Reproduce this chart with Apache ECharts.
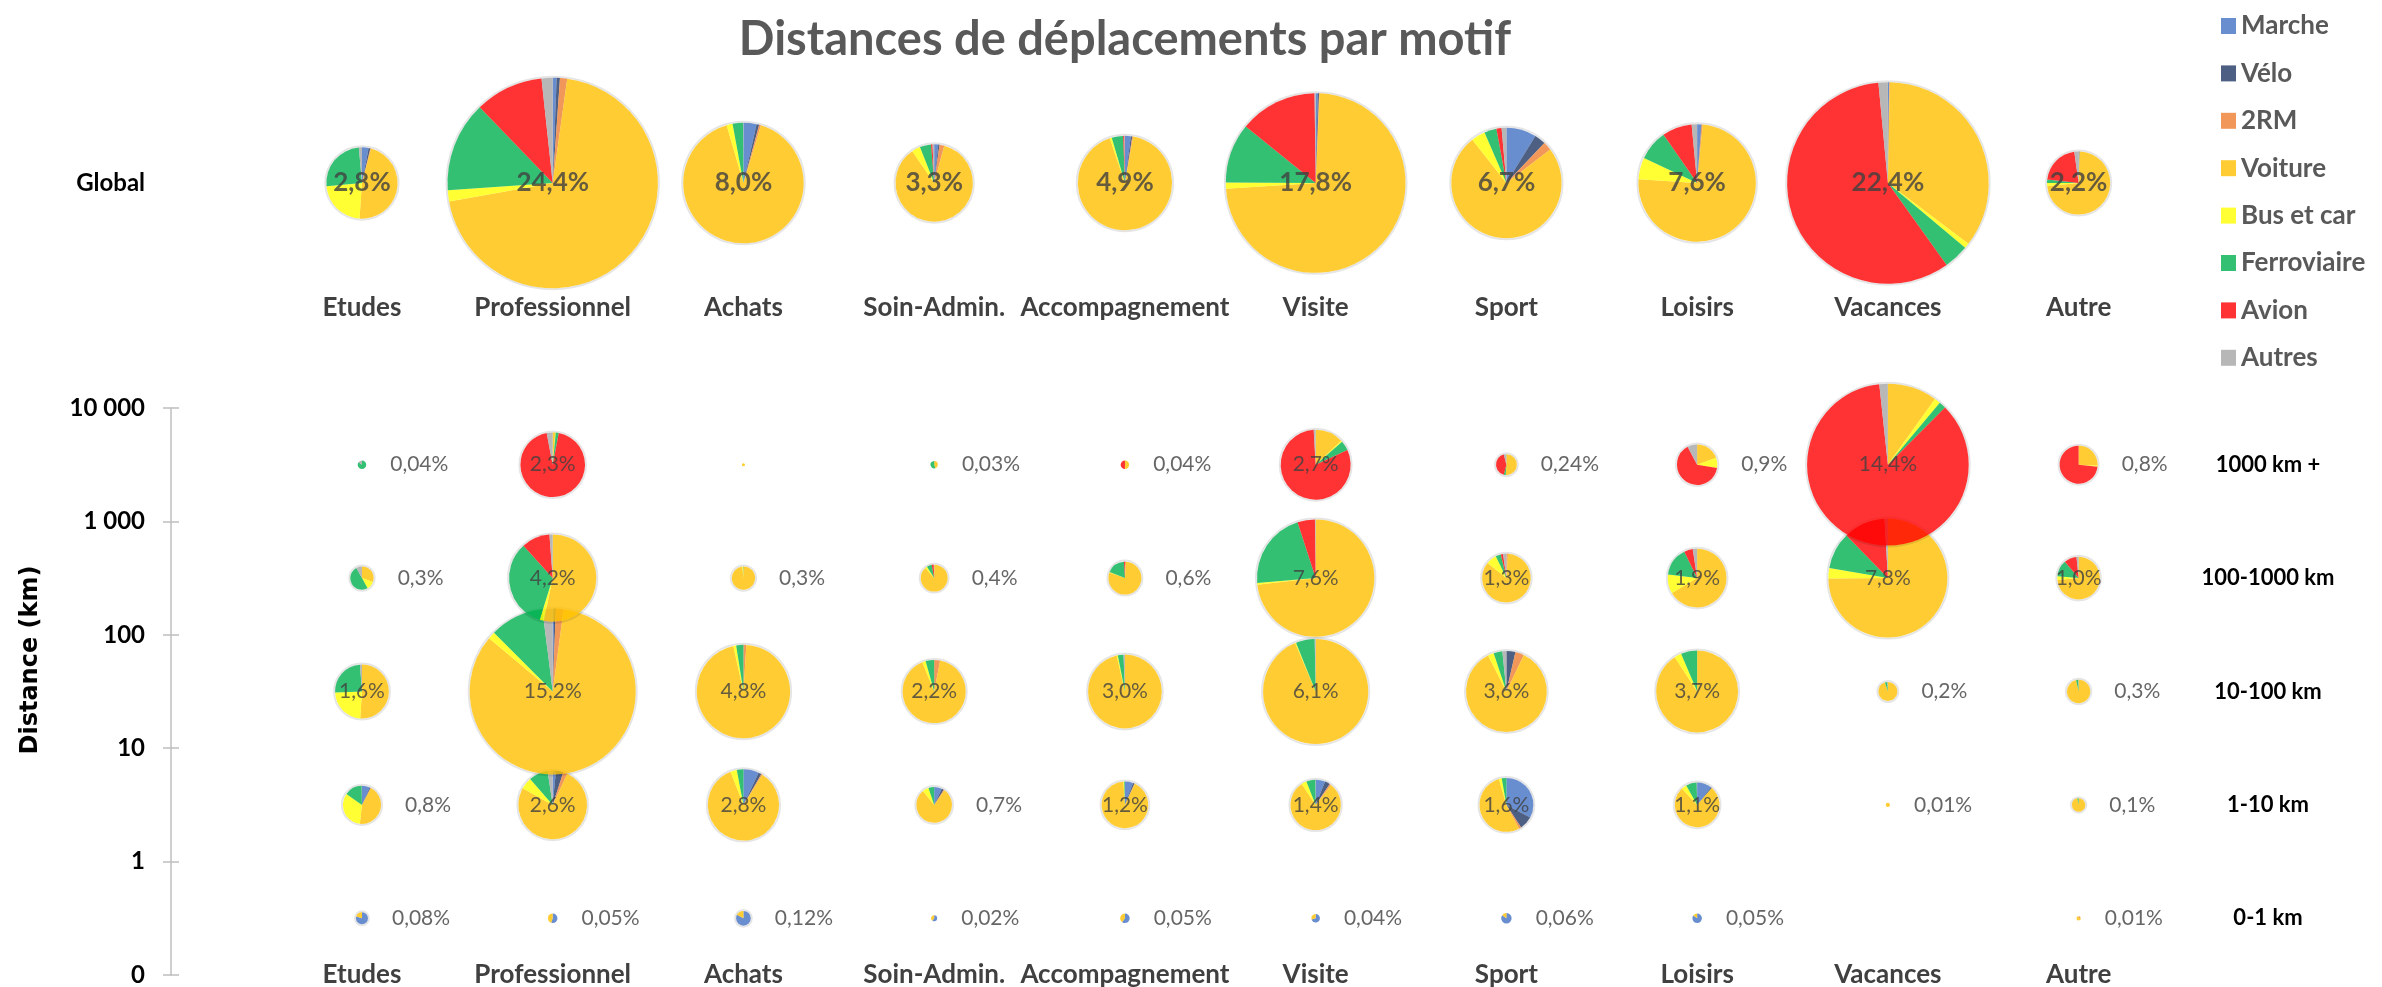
<!DOCTYPE html>
<html>
<head>
<meta charset="utf-8">
<title>Distances de déplacements par motif</title>
<script src="https://cdn.jsdelivr.net/npm/echarts@6/dist/echarts.min.js"></script>
<style>
  html, body { margin: 0; padding: 0; background: #fff; }
  #chart { width: 2382px; height: 987px; }
</style>
</head>
<body>
<div id="chart"></div>
<script>
// motifs (colonnes) et modes de transport (parts des camemberts)
var motifs = ["Etudes", "Professionnel", "Achats", "Soin-Admin.", "Accompagnement", "Visite", "Sport", "Loisirs", "Vacances", "Autre"];
var modes = ["Marche", "Vélo", "2RM", "Voiture", "Bus et car", "Ferroviaire", "Avion", "Autres"];
var modeColors = ["#4472C4", "#203864", "#ED7D31", "#FFC000", "#FFFF00", "#00B050", "#FF0000", "#A5A5A5"];
var bands = ["0-1 km", "1-10 km", "10-100 km", "100-1000 km", "1000 km +"];
var distanceTicks = ["0", "1", "10", "100", "1 000", "10 000"];

// part des distances (%) - ligne Global
var globalShare = [2.8, 24.4, 8.0, 3.3, 4.9, 17.8, 6.7, 7.6, 22.4, 2.2];
// répartition modale (Marche, Vélo, 2RM, Voiture, Bus, Fer, Avion, Autres)
var globalMix = [
  [3, 0.8, 0.3, 47, 22.5, 25, 0, 1.4],
  [0.6, 0.5, 1.1, 70, 1.7, 13.9, 10.5, 1.7],
  [3.5, 0.7, 0.5, 90.8, 1.6, 2.8, 0, 0.1],
  [1.7, 0.5, 2, 86.2, 3.6, 4.7, 0.6, 0.7],
  [2, 0.5, 0.3, 92, 0.7, 3.9, 0.4, 0.2],
  [0.4, 0.2, 0.1, 73.3, 1.1, 10.7, 14, 0.2],
  [8.8, 3.3, 2.5, 74.8, 4.1, 3.6, 1.5, 1.4],
  [1.1, 0.1, 0.3, 74.5, 6, 8.3, 8.2, 1.5],
  [0.2, 0, 0.1, 35, 0.8, 4, 58.4, 1.5],
  [0.3, 0.2, 0, 73, 1.5, 1.8, 21, 2.2]
];

// par tranche de distance
var share0to1 = [0.08, 0.05, 0.12, 0.02, 0.05, 0.04, 0.06, 0.05, null, 0.01];
var mix0to1 = [
  [80, 0, 0, 20, 0, 0, 0, 0],
  [55, 0, 0, 45, 0, 0, 0, 0],
  [82, 1, 0, 17, 0, 0, 0, 0],
  [60, 0, 0, 40, 0, 0, 0, 0],
  [60, 0, 0, 40, 0, 0, 0, 0],
  [70, 0, 0, 30, 0, 0, 0, 0],
  [85, 0, 0, 15, 0, 0, 0, 0],
  [85, 0, 0, 15, 0, 0, 0, 0],
  null,
  [0, 0, 20, 80, 0, 0, 0, 0]
];
var share1to10 = [0.8, 2.6, 2.8, 0.7, 1.2, 1.4, 1.6, 1.1, 0.01, 0.1];
var mix1to10 = [
  [6.7, 0.8, 0.3, 44, 33, 15, 0, 0.2],
  [1.5, 3.5, 2, 76, 5.6, 9, 0, 2.4],
  [7, 1.4, 0.5, 85.3, 2.9, 3, 0, 0],
  [7, 2, 0.8, 79.4, 5.6, 5.2, 0, 0],
  [5.6, 1.1, 0.3, 92, 0.5, 0.5, 0, 0],
  [6.1, 3.3, 1, 80.3, 3.3, 5.8, 0, 0.2],
  [32.8, 8, 1.4, 53.3, 1.7, 2.8, 0, 0],
  [10.6, 0.8, 0, 76.6, 3.9, 7.8, 0, 0.3],
  [0, 0, 0, 100, 0, 0, 0, 0],
  [0, 0, 0, 97, 0, 3, 0, 0]
];
var share10to100 = [1.6, 15.2, 4.8, 2.2, 3.0, 6.1, 3.6, 3.7, 0.2, 0.3];
var mix10to100 = [
  [0, 0, 0, 51, 23.4, 24.4, 0, 1.2],
  [0.3, 0.3, 1.5, 84, 1.4, 10.5, 0, 2],
  [0, 0, 1, 95.5, 1, 2.5, 0, 0],
  [0, 0, 3, 90.9, 1.7, 4.4, 0, 0],
  [0, 0, 0, 96.4, 0.5, 2.5, 0, 0.6],
  [0, 0, 0, 93.6, 0.3, 5.8, 0, 0.3],
  [0, 3.6, 3.5, 85.5, 2.4, 3.5, 0, 1.6],
  [0, 0, 0, 90.8, 2.8, 6.4, 0, 0],
  [0, 0, 0, 95, 0, 4, 0, 1],
  [0, 0, 0, 96.5, 0, 3, 0, 0.5]
];
var share100to1000 = [0.3, 4.2, 0.3, 0.4, 0.6, 7.6, 1.3, 1.9, 7.8, 1.0];
var mix100to1000 = [
  [0, 0, 0, 30.5, 11.5, 50, 0, 8],
  [0, 0, 0, 53.3, 1.5, 33.5, 10.5, 1.2],
  [0, 0, 0, 98.5, 1, 0.5, 0, 0],
  [0, 0, 0, 88.5, 2.5, 6, 2.5, 0.5],
  [0, 0, 1, 79.5, 0.5, 18, 1, 0],
  [0, 0, 0, 73.2, 0.5, 21.3, 4.8, 0.2],
  [0, 0, 1, 84.6, 7, 3.5, 1.5, 2.2],
  [0, 0, 0, 66.4, 10.5, 15.8, 4.8, 2.4],
  [0, 0, 0, 75, 2.8, 10, 11.4, 0.9],
  [0, 0, 0, 73.6, 2.8, 12.4, 9.6, 1.6]
];
var share1000plus = [0.04, 2.3, 0.005, 0.03, 0.04, 2.7, 0.24, 0.9, 14.4, 0.8];
var mix1000plus = [
  [0, 0, 0, 0, 0, 85, 0, 15],
  [0, 0, 0, 1.2, 0.3, 1.5, 94, 3],
  [0, 0, 0, 100, 0, 0, 0, 0],
  [0, 0, 0, 45, 0, 55, 0, 0],
  [0, 0, 0, 50, 0, 0, 50, 0],
  [0, 0, 0, 13, 0.6, 4.5, 81, 0.9],
  [0, 0, 0, 51, 0, 3, 42, 4],
  [0, 0, 0, 19.4, 8.3, 0, 64.5, 7.8],
  [0, 0, 0, 9.9, 1.2, 1.4, 85.8, 1.7],
  [0, 0, 0, 25.8, 1, 0, 73.2, 0]
];

var bandShares = [share0to1, share1to10, share10to100, share100to1000, share1000plus];
var bandMixes = [mix0to1, mix1to10, mix10to100, mix100to1000, mix1000plus];

var K = 21.3; // rayon = K * racine(part)
function pieRadius(v) { return K * Math.sqrt(v); }
function pctText(v) {
  var s = v >= 1 ? v.toFixed(1) : String(v);
  return s.replace(".", ",") + "%";
}

function renderPie(params, api) {
  var c = api.coord([api.value(0), api.value(1)]);
  var r = pieRadius(api.value(2));
  var mix = [], total = 0;
  for (var m = 0; m < modes.length; m++) { mix.push(api.value(3 + m)); total += api.value(3 + m); }
  var children = [];
  if (r > 6) {
    children.push({ type: "circle", shape: { cx: c[0], cy: c[1], r: r + 1 },
      style: { fill: "none", stroke: "rgba(0,0,0,0.10)", lineWidth: 2 } });
  }
  var a = -Math.PI / 2;
  mix.forEach(function (s, m) {
    if (!s) return;
    var b = a + s / total * Math.PI * 2;
    children.push({ type: "sector",
      shape: { cx: c[0], cy: c[1], r0: 0, r: r, startAngle: a, endAngle: b, clockwise: true },
      style: { fill: modeColors[m], opacity: 0.8 } });
    a = b;
  });
  return { type: "group", children: children };
}

// données des séries
var topPies = [], topLabels = [];
motifs.forEach(function (name, i) {
  topPies.push([i, 0, globalShare[i]].concat(globalMix[i]));
  topLabels.push({ value: [i, 0], symbolSize: 2 * pieRadius(globalShare[i]),
    label: { position: "inside", formatter: pctText(globalShare[i]) } });
});

var gridPies = [], gridLabels = [];
bands.forEach(function (band, row) {
  bandShares[row].forEach(function (v, i) {
    if (v == null) return;
    gridPies.push([i, row + 0.5, v].concat(bandMixes[row][i]));
    gridLabels.push({ value: [i, row + 0.5], symbolSize: 2 * pieRadius(v),
      label: { show: v >= 0.01, position: v >= 1 ? "inside" : "right", formatter: pctText(v) } });
  });
});

var FONT = "Lato";
var chart = echarts.init(document.getElementById("chart"));

var catAxis = function (gridIndex) {
  return {
    gridIndex: gridIndex, type: "category", data: motifs,
    axisLine: { show: false }, axisTick: { show: false }, splitLine: { show: false },
    axisLabel: { interval: 0, margin: 0, verticalAlign: "middle", color: "#404040",
      fontFamily: FONT, fontWeight: "bold", fontSize: 26 }
  };
};

var legendSeries = modes.map(function (name, m) {
  return { name: name, type: "scatter", data: [], itemStyle: { color: modeColors[m] } };
});

var option = {
  animation: false,
  backgroundColor: "#fff",
  title: {
    text: "Distances de déplacements par motif",
    left: 1120, top: 11, textAlign: "center",
    textStyle: { fontFamily: FONT, fontWeight: "bold", fontSize: 47, color: "#595959" }
  },
  legend: {
    orient: "vertical", left: 2216, top: 8,
    itemWidth: 15, itemHeight: 16, itemGap: 21.4, icon: "rect",
    data: modes,
    textStyle: { fontFamily: FONT, fontWeight: "bold", fontSize: 26, lineHeight: 26, color: "#595959" }
  },
  grid: [
    { left: 266.6, right: 208, top: 58, height: 250, outerBoundsMode: "none" },
    { left: 266.6, right: 208, top: 408, height: 567, outerBoundsMode: "none" }
  ],
  xAxis: [catAxis(0), catAxis(1)],
  yAxis: [
    { gridIndex: 0, type: "category", data: ["Global"],
      axisLine: { show: false }, axisTick: { show: false },
      axisLabel: { align: "center", margin: 156, color: "#000",
        fontFamily: FONT, fontWeight: "bold", fontSize: 24 } },
    { gridIndex: 1, type: "value", position: "left", min: 0, max: 5, interval: 1, offset: 95.6,
      axisLine: { show: true, lineStyle: { color: "#BFBFBF", width: 1.5 } },
      axisTick: { show: true, length: 8, lineStyle: { color: "#BFBFBF", width: 1.5 } },
      splitLine: { show: false },
      axisLabel: { margin: 26, color: "#000", fontFamily: FONT, fontWeight: "bold", fontSize: 24,
        formatter: function (v) { return distanceTicks[v]; } },
      name: "Distance (km)", nameLocation: "middle", nameRotate: 90, nameGap: 128,
      nameTextStyle: { color: "#000", fontFamily: "DejaVu Sans", fontWeight: "bold", fontSize: 24,
        padding: [0, 0, 0, 63] } },
    { gridIndex: 1, type: "value", position: "left", min: 0, max: 5, interval: 1, offset: 95.6,
      axisLine: { show: false }, splitLine: { show: false }, axisLabel: { show: false },
      axisTick: { show: true, inside: true, length: 8, lineStyle: { color: "#BFBFBF", width: 1.5 } } },
    { gridIndex: 1, type: "category", position: "right", data: bands,
      axisLine: { show: false }, axisTick: { show: false }, splitLine: { show: false },
      axisLabel: { align: "center", margin: 94, color: "#000",
        fontFamily: FONT, fontWeight: "bold", fontSize: 22 } }
  ],
  series: legendSeries.concat([
    { type: "custom", name: "global", xAxisIndex: 0, yAxisIndex: 0, renderItem: renderPie,
      data: topPies, silent: true, z: 3 },
    { type: "custom", name: "tranches", xAxisIndex: 1, yAxisIndex: 1, renderItem: renderPie,
      data: gridPies, silent: true, z: 3 },
    { type: "scatter", name: "lbl-global", xAxisIndex: 0, yAxisIndex: 0, data: topLabels, silent: true, z: 5,
      itemStyle: { color: "rgba(0,0,0,0)" },
      label: { show: true, color: "#404040", fontFamily: FONT, fontWeight: "bold", fontSize: 26 } },
    { type: "scatter", name: "lbl-tranches", xAxisIndex: 1, yAxisIndex: 1, data: gridLabels, silent: true, z: 5,
      itemStyle: { color: "rgba(0,0,0,0)" },
      label: { show: true, distance: 24, color: "#404040", fontFamily: FONT, fontSize: 21 } }
  ])
};

chart.setOption(option);
</script>
</body>
</html>
